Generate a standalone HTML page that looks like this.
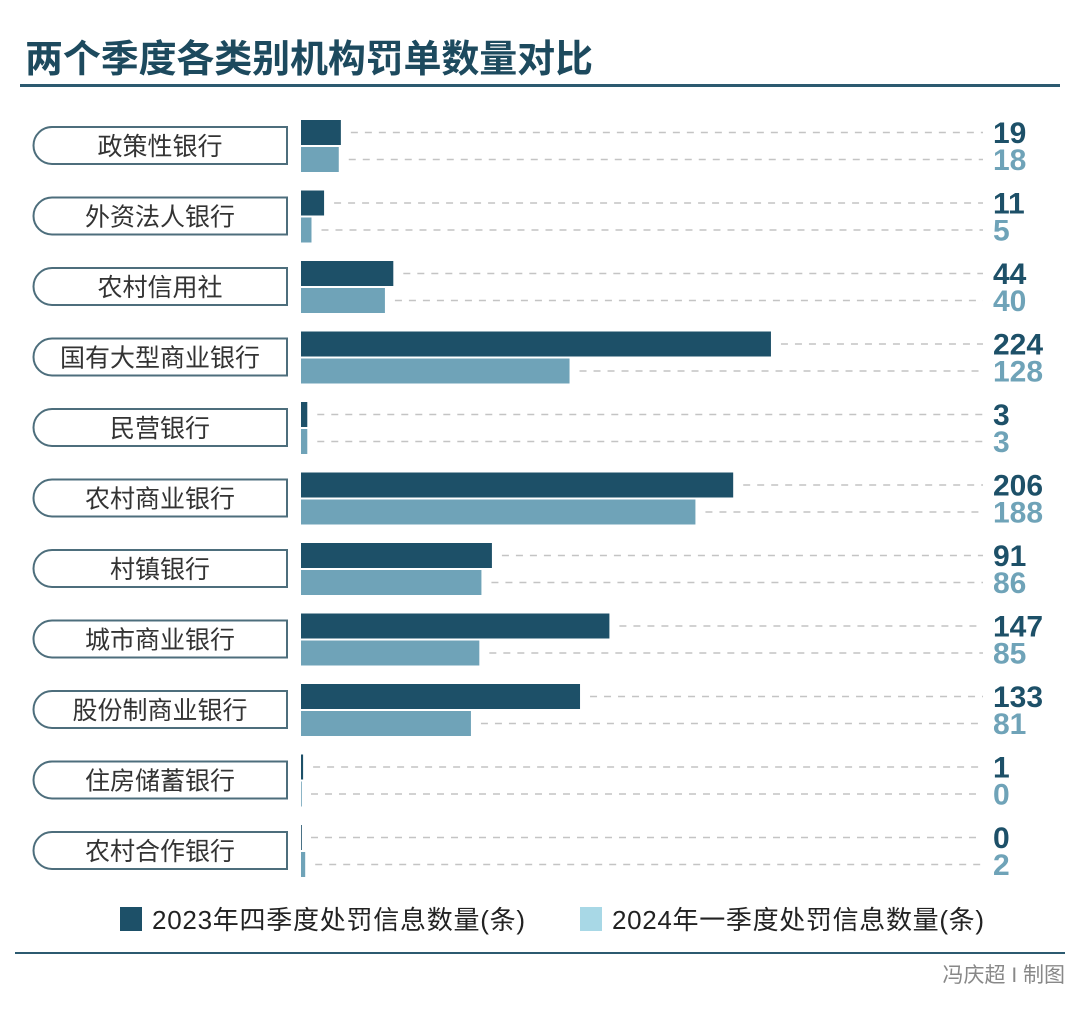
<!DOCTYPE html>
<html><head><meta charset="utf-8"><style>
body{margin:0;width:1080px;height:1006px;background:#fff;overflow:hidden;font-family:"Liberation Sans","Noto Sans CJK SC",sans-serif}
</style></head><body>
<svg id="chart" width="1080" height="1006" xmlns="http://www.w3.org/2000/svg">
<text x="25" y="72" font-size="38" font-weight="bold" fill="#1d4a5e" textLength="568" font-family="Liberation Sans, Noto Sans CJK SC, sans-serif">两个季度各类别机构罚单数量对比</text>
<rect x="20" y="84" width="1040" height="3" fill="#2c5a70"/>
<g id="rows"></g>
<rect x="120" y="907" width="22" height="24" fill="#1d5068"/>
<text x="152" y="929" font-size="26" fill="#222" textLength="373">2023年四季度处罚信息数量(条)</text>
<rect x="580" y="907" width="22" height="24" fill="#a8d8e6"/>
<text x="612" y="929" font-size="26" fill="#222" textLength="372">2024年一季度处罚信息数量(条)</text>
<rect x="15" y="952" width="1050" height="2" fill="#2c5a70"/>
<text x="1065" y="982" font-size="21" fill="#888" text-anchor="end">冯庆超 I 制图</text>
</svg>
<script>
const categories=["政策性银行","外资法人银行","农村信用社","国有大型商业银行","民营银行","农村商业银行","村镇银行","城市商业银行","股份制商业银行","住房储蓄银行","农村合作银行"];
const q4_2023=[19,11,44,224,3,206,91,147,133,1,0];
const q1_2024=[18,5,40,128,3,188,86,85,81,0,2];
const NS="http://www.w3.org/2000/svg";
const g=document.getElementById('rows');
const x0=301, scale=2.098;
const xScale=v=>v*scale;
const rowTop=i=>120+70.5*i;
function mk(tag,attrs){const e=document.createElementNS(NS,tag);for(const k in attrs)e.setAttribute(k,attrs[k]);g.appendChild(e);return e;}
categories.forEach((c,i)=>{
  const t=rowTop(i);
  const p=mk('path',{d:`M287 ${t+7}H52A18.5 18.5 0 0 0 52 ${t+44}H287Z`,fill:'none',stroke:'#4d6e7c','stroke-width':2});
  
  
  const lt=mk('text',{x:160,y:t+35,'font-size':25,fill:'#333','text-anchor':'middle'});
  lt.textContent=c;
  
  
  [[q4_2023[i],t,'#1d5068','bar-2023q4'],[q1_2024[i],t+27,'#6fa3b8','bar-2024q1']].forEach(([v,y,col,nm])=>{
    const w=xScale(v);
    const r=mk('rect',{x:x0,y:y,width:Math.max(w,v>0?2:0.8),height:25,fill:col});
    
    
    const l=mk('line',{x1:x0+w+10,x2:983,y1:y+12.5,y2:y+12.5,stroke:'#c4c4c4','stroke-width':1.5,'stroke-dasharray':'7 7'});
    
    
    const vt=mk('text',{x:993,y:y+23,'font-size':30,'font-weight':'bold',fill:col});
    vt.textContent=v;
    
    
  });
});
</script>
</body></html>
